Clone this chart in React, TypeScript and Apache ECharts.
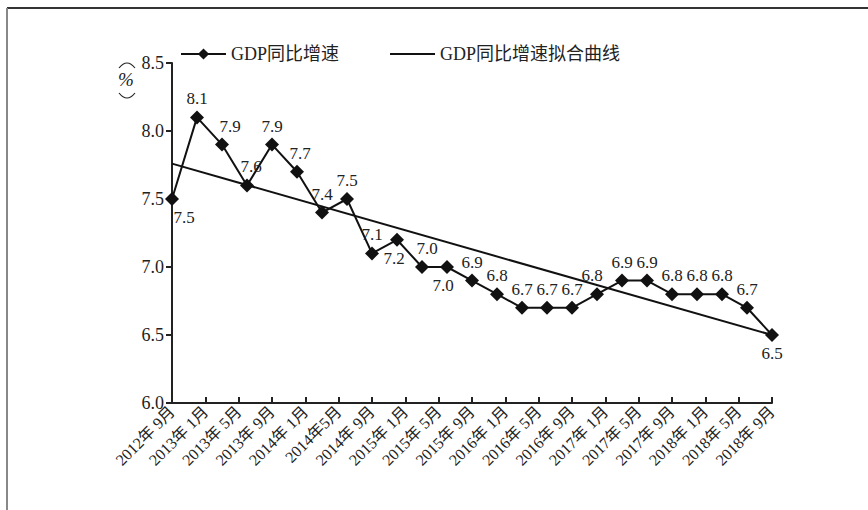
import React, { useEffect, useRef } from "react";
import * as echarts from "echarts";

const tickLabels = [
  "2012年 9月", "2013年 1月", "2013年 5月", "2013年 9月", "2014年 1月", "2014年5月",
  "2014年 9月", "2015年 1月", "2015年 5月", "2015年 9月", "2016年 1月", "2016年 5月",
  "2016年 9月", "2017年 1月", "2017年 5月", "2017年 9月", "2018年 1月", "2018年 5月",
  "2018年 9月",
];
// months since 2012-09 for each quarterly observation
const monthOffsets = [0, 3, 6, 9, 12, 15, 18, 21, 24, 27, 30, 33, 36, 39, 42, 45, 48, 51, 54, 57, 60, 63, 66, 69, 72];
const gdpGrowth = [7.5, 8.1, 7.9, 7.6, 7.9, 7.7, 7.4, 7.5, 7.1, 7.2, 7.0, 7.0, 6.9, 6.8, 6.7, 6.7, 6.7, 6.8, 6.9, 6.9, 6.8, 6.8, 6.8, 6.7, 6.5];
const fitMonths = [0, 72];
const fitValues = [7.76, 6.5];
const seriesNames = ["GDP同比增速", "GDP同比增速拟合曲线"];

const FONT = "'Liberation Serif', 'Noto Sans CJK SC', serif";

export default function App() {
  const ref = useRef<HTMLDivElement>(null);
  useEffect(() => {
    if (!ref.current) return;
    const chart = echarts.init(ref.current, undefined, { renderer: "svg" });
    const labelCfg: Record<number, any> = {
      0: { position: "bottom", offset: [12, 0] },
      2: { position: "top", offset: [8, 0] },
      3: { position: "top", offset: [4, 0] },
      5: { position: "top", offset: [3, 0] },
      9: { position: "bottom", offset: [-3, 0] },
      10: { position: "top", offset: [5, 0] },
      11: { position: "bottom", offset: [-4, 0] },
      17: { position: "top", offset: [-5, 0] },
      24: { position: "bottom", offset: [0, 0] },
    };
    const mainData = gdpGrowth.map((v, i) => {
      const c = labelCfg[i] || { position: "top", offset: [0, 0] };
      return { value: [monthOffsets[i], v], label: { position: c.position, offset: c.offset } };
    });
    chart.setOption({
      animation: false,
      textStyle: { fontFamily: FONT },
      grid: { left: 172, right: 96, top: 63, bottom: 107 },
      legend: {
        left: 175,
        top: 40,
        itemWidth: 45,
        itemHeight: 14,
        itemGap: 50,
        textStyle: { fontFamily: FONT, fontSize: 18, color: "#222" },
        data: [
          { name: seriesNames[0] },
          { name: seriesNames[1], itemStyle: { opacity: 0 } },
        ],
      },
      xAxis: {
        type: "value",
        min: 0,
        max: 72,
        interval: 4,
        splitLine: { show: false },
        axisLine: { lineStyle: { color: "#222", width: 2 } },
        axisTick: { inside: true, length: 6, lineStyle: { color: "#222", width: 2 } },
        axisLabel: {
          rotate: 45,
          fontFamily: FONT,
          fontSize: 16,
          color: "#222",
          margin: 6,
          formatter: (v: number) => tickLabels[Math.round(v / 4)] ?? "",
        },
      },
      yAxis: {
        type: "value",
        min: 6.0,
        max: 8.5,
        interval: 0.5,
        splitLine: { show: false },
        axisLine: { show: true, lineStyle: { color: "#222", width: 2 } },
        axisTick: { show: true, length: 6, lineStyle: { color: "#222", width: 2 } },
        axisLabel: {
          fontFamily: FONT,
          fontSize: 18,
          color: "#222",
          margin: 8,
          formatter: (v: number) => v.toFixed(1),
        },
      },
      series: [
        {
          name: seriesNames[0],
          type: "line",
          data: mainData,
          symbol: "diamond",
          symbolSize: 14,
          itemStyle: { color: "#111" },
          lineStyle: { color: "#111", width: 2 },
          label: {
            show: true,
            fontFamily: FONT,
            fontSize: 17,
            color: "#222",
            distance: 3,
            formatter: (p: any) => Number(p.value[1]).toFixed(1),
          },
          z: 3,
        },
        {
          name: seriesNames[1],
          type: "line",
          data: fitMonths.map((m, i) => [m, fitValues[i]]),
          symbol: "none",
          itemStyle: { color: "#111" },
          lineStyle: { color: "#111", width: 2 },
          z: 2,
        },
      ],
      graphic: [
        { type: "line", shape: { x1: 7, y1: 8, x2: 868, y2: 8 }, style: { stroke: "#333", lineWidth: 2 } },
        { type: "line", shape: { x1: 7, y1: 8, x2: 7, y2: 510 }, style: { stroke: "#888", lineWidth: 2 } },
        { type: "bezierCurve", shape: { x1: 119, y1: 68, cpx1: 127, cpy1: 58, x2: 135, y2: 68 }, style: { stroke: "#222", lineWidth: 1.2, fill: "none" } },
        { type: "text", left: 118, top: 70, style: { text: "%", font: "italic 19px 'Liberation Serif'", fill: "#222" } },
        { type: "bezierCurve", shape: { x1: 119, y1: 93, cpx1: 127, cpy1: 103, x2: 135, y2: 93 }, style: { stroke: "#222", lineWidth: 1.2, fill: "none" } },
      ],
    });
    return () => chart.dispose();
  }, []);
  return <div ref={ref} style={{ position: "fixed", left: 0, top: 0, width: 868, height: 510, background: "#fff" }} />;
}
